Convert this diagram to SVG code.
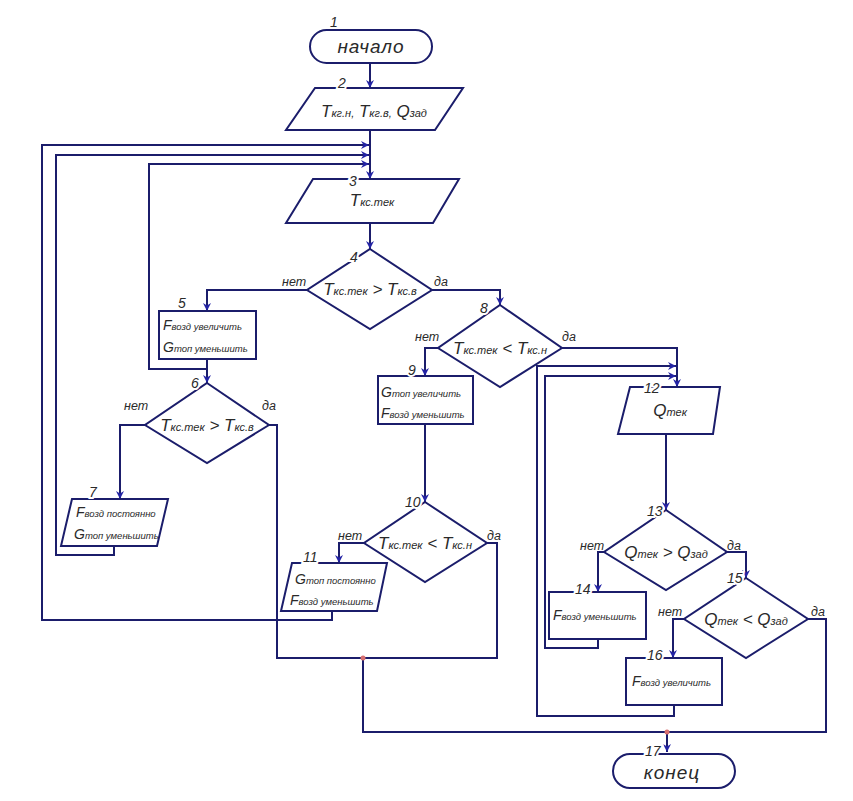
<svg xmlns="http://www.w3.org/2000/svg" width="853" height="801" viewBox="0 0 853 801">
<style>
.ln{fill:none;stroke:#1b1d6b;stroke-width:2}
.sh{fill:#fff;stroke:#1b1d6b;stroke-width:2}
.t{font-family:"Liberation Sans",Arial,sans-serif;font-style:italic;fill:#2a2a2a}
.c{text-anchor:middle}
.num{font-size:14px;paint-order:stroke;stroke:#fff;stroke-width:4px}
.yn{font-size:12.5px}
.big{font-size:17px}
.sub{font-size:11px}
.bx{font-size:14px}
.bs{font-size:9.5px}
.ttl{font-size:19px;letter-spacing:1px}
.dot{fill:#d87070}
</style>
<defs>
<marker id="a" markerUnits="userSpaceOnUse" markerWidth="10" markerHeight="10" refX="8" refY="4" orient="auto">
<path d="M0,0 L8,4 L0,8 L2.5,4 Z" fill="#2323a5"/>
</marker>
</defs>
<rect width="853" height="801" fill="#fff"/>
<g id="connectors">
<path class="ln" d="M370 63 V88" marker-end="url(#a)"/>
<path class="ln" d="M370 130 V179" marker-end="url(#a)"/>
<path class="ln" d="M332 611 V620 H42 V145 H369" marker-end="url(#a)"/>
<path class="ln" d="M114 546 V555 H56 V155 H369" marker-end="url(#a)"/>
<path class="ln" d="M207 369 H149 V164 H369" marker-end="url(#a)"/>
<path class="ln" d="M370 223 V249" marker-end="url(#a)"/>
<path class="ln" d="M307 290 H207 V311" marker-end="url(#a)"/>
<path class="ln" d="M207 359 V383" marker-end="url(#a)"/>
<path class="ln" d="M432 290 H500 V305" marker-end="url(#a)"/>
<path class="ln" d="M146 425 H120 V499" marker-end="url(#a)"/>
<path class="ln" d="M269 425 H277 V658 H497 V543 H487"/>
<path class="ln" d="M438 348 H425 V376" marker-end="url(#a)"/>
<path class="ln" d="M425 424 V502" marker-end="url(#a)"/>
<path class="ln" d="M364 543 H339 V563" marker-end="url(#a)"/>
<path class="ln" d="M562 348 H677 V387" marker-end="url(#a)"/>
<path class="ln" d="M598 639 V648 H545 V376 H676" marker-end="url(#a)"/>
<path class="ln" d="M674 705 V716 H537 V366 H676" marker-end="url(#a)"/>
<path class="ln" d="M666 434 V510" marker-end="url(#a)"/>
<path class="ln" d="M604 552 H598 V592" marker-end="url(#a)"/>
<path class="ln" d="M727 552 H746 V578" marker-end="url(#a)"/>
<path class="ln" d="M684 619 H673 V658" marker-end="url(#a)"/>
<path class="ln" d="M808 619 H826 V732 H363 V658"/>
<path class="ln" d="M667 732 V752" marker-end="url(#a)"/>
<circle class="dot" cx="363" cy="658" r="2.5"/>
<circle class="dot" cx="667" cy="732" r="2.5"/>
<text class="t yn" x="282" y="286">нет</text>
<text class="t yn" x="434" y="286">да</text>
<text class="t yn" x="124" y="410">нет</text>
<text class="t yn" x="262" y="410">да</text>
<text class="t yn" x="415" y="341">нет</text>
<text class="t yn" x="562" y="341">да</text>
<text class="t yn" x="338" y="540">нет</text>
<text class="t yn" x="487" y="540">да</text>
<text class="t yn" x="580" y="550">нет</text>
<text class="t yn" x="727" y="550">да</text>
<text class="t yn" x="658" y="616">нет</text>
<text class="t yn" x="811" y="616">да</text>
</g>
<g id="n1">
<rect class="sh" x="310" y="30" width="122" height="33" rx="16.5"/>
<text class="t num" x="330" y="27">1</text>
<text class="t c ttl" x="371" y="53">начало</text>
</g>
<g id="n2">
<polygon class="sh" points="315,88 463,88 435,130 286,130"/>
<text class="t num" x="338" y="88">2</text>
<text class="t c" x="374" y="117"><tspan class="big">T</tspan><tspan class="sub">кг.н,</tspan><tspan class="big"> T</tspan><tspan class="sub">кг.в,</tspan><tspan class="big"> Q</tspan><tspan class="sub">зад</tspan></text>
</g>
<g id="n3">
<polygon class="sh" points="313,179 459,179 433,223 286,223"/>
<text class="t num" x="349" y="186">3</text>
<text class="t c" x="372" y="206"><tspan class="big">T</tspan><tspan class="sub">кс.тек</tspan></text>
</g>
<g id="n4">
<polygon class="sh" points="370,249 432,290 370,329 307,290"/>
<text class="t num" x="350" y="262">4</text>
<text class="t c" x="370" y="295"><tspan class="big">T</tspan><tspan class="sub">кс.тек</tspan><tspan class="big"> &gt; T</tspan><tspan class="sub">кс.в</tspan></text>
</g>
<g id="n5">
<rect class="sh" x="159" y="311" width="97" height="48"/>
<text class="t num" x="178" y="308">5</text>
<text class="t" x="163" y="330"><tspan class="bx">F</tspan><tspan class="bs">возд увеличить</tspan></text>
<text class="t" x="163" y="352"><tspan class="bx">G</tspan><tspan class="bs">топ уменьшить</tspan></text>
</g>
<g id="n6">
<polygon class="sh" points="207,383 269,425 207,463 145,425"/>
<text class="t num" x="191" y="388">6</text>
<text class="t c" x="207" y="431"><tspan class="big">T</tspan><tspan class="sub">кс.тек</tspan><tspan class="big"> &gt; T</tspan><tspan class="sub">кс.в</tspan></text>
</g>
<g id="n7">
<polygon class="sh" points="72,499 168,499 157,546 61,546"/>
<text class="t num" x="89" y="497">7</text>
<text class="t" x="76" y="517"><tspan class="bx">F</tspan><tspan class="bs">возд постоянно</tspan></text>
<text class="t" x="74" y="539"><tspan class="bx">G</tspan><tspan class="bs">топ уменьшить</tspan></text>
</g>
<g id="n8">
<polygon class="sh" points="500,305 562,348 500,387 438,348"/>
<text class="t num" x="480" y="313">8</text>
<text class="t c" x="500" y="354"><tspan class="big">T</tspan><tspan class="sub">кс.тек</tspan><tspan class="big"> &lt; T</tspan><tspan class="sub">кс.н</tspan></text>
</g>
<g id="n9">
<rect class="sh" x="378" y="376" width="95" height="48"/>
<text class="t num" x="408" y="375">9</text>
<text class="t" x="381" y="397"><tspan class="bx">G</tspan><tspan class="bs">топ увеличить</tspan></text>
<text class="t" x="381" y="418"><tspan class="bx">F</tspan><tspan class="bs">возд уменьшить</tspan></text>
</g>
<g id="n10">
<polygon class="sh" points="425,502 487,543 425,582 364,543"/>
<text class="t num" x="405" y="507">10</text>
<text class="t c" x="425" y="549"><tspan class="big">T</tspan><tspan class="sub">кс.тек</tspan><tspan class="big"> &lt; T</tspan><tspan class="sub">кс.н</tspan></text>
</g>
<g id="n11">
<polygon class="sh" points="292,563 387,563 377,611 281,611"/>
<text class="t num" x="303" y="562">11</text>
<text class="t" x="295" y="584"><tspan class="bx">G</tspan><tspan class="bs">топ постоянно</tspan></text>
<text class="t" x="290" y="605"><tspan class="bx">F</tspan><tspan class="bs">возд уменьшить</tspan></text>
</g>
<g id="n12">
<polygon class="sh" points="630,387 720,387 713,434 618,434"/>
<text class="t num" x="644" y="393">12</text>
<text class="t c" x="670" y="416"><tspan class="big">Q</tspan><tspan class="sub">тек</tspan></text>
</g>
<g id="n13">
<polygon class="sh" points="666,510 727,552 666,590 604,552"/>
<text class="t num" x="647" y="516">13</text>
<text class="t c" x="666" y="558"><tspan class="big">Q</tspan><tspan class="sub">тек</tspan><tspan class="big"> &gt; Q</tspan><tspan class="sub">зад</tspan></text>
</g>
<g id="n14">
<rect class="sh" x="549" y="592" width="97" height="47"/>
<text class="t num" x="575" y="594">14</text>
<text class="t" x="553" y="620"><tspan class="bx">F</tspan><tspan class="bs">возд уменьшить</tspan></text>
</g>
<g id="n15">
<polygon class="sh" points="746,578 808,619 746,658 684,619"/>
<text class="t num" x="727" y="583">15</text>
<text class="t c" x="746" y="625"><tspan class="big">Q</tspan><tspan class="sub">тек</tspan><tspan class="big"> &lt; Q</tspan><tspan class="sub">зад</tspan></text>
</g>
<g id="n16">
<rect class="sh" x="626" y="658" width="96" height="47"/>
<text class="t num" x="647" y="660">16</text>
<text class="t" x="632" y="686"><tspan class="bx">F</tspan><tspan class="bs">возд увеличить</tspan></text>
</g>
<g id="n17">
<rect class="sh" x="613" y="754" width="122" height="34" rx="17"/>
<text class="t num" x="645" y="756">17</text>
<text class="t c ttl" x="672" y="779">конец</text>
</g>
</svg>
